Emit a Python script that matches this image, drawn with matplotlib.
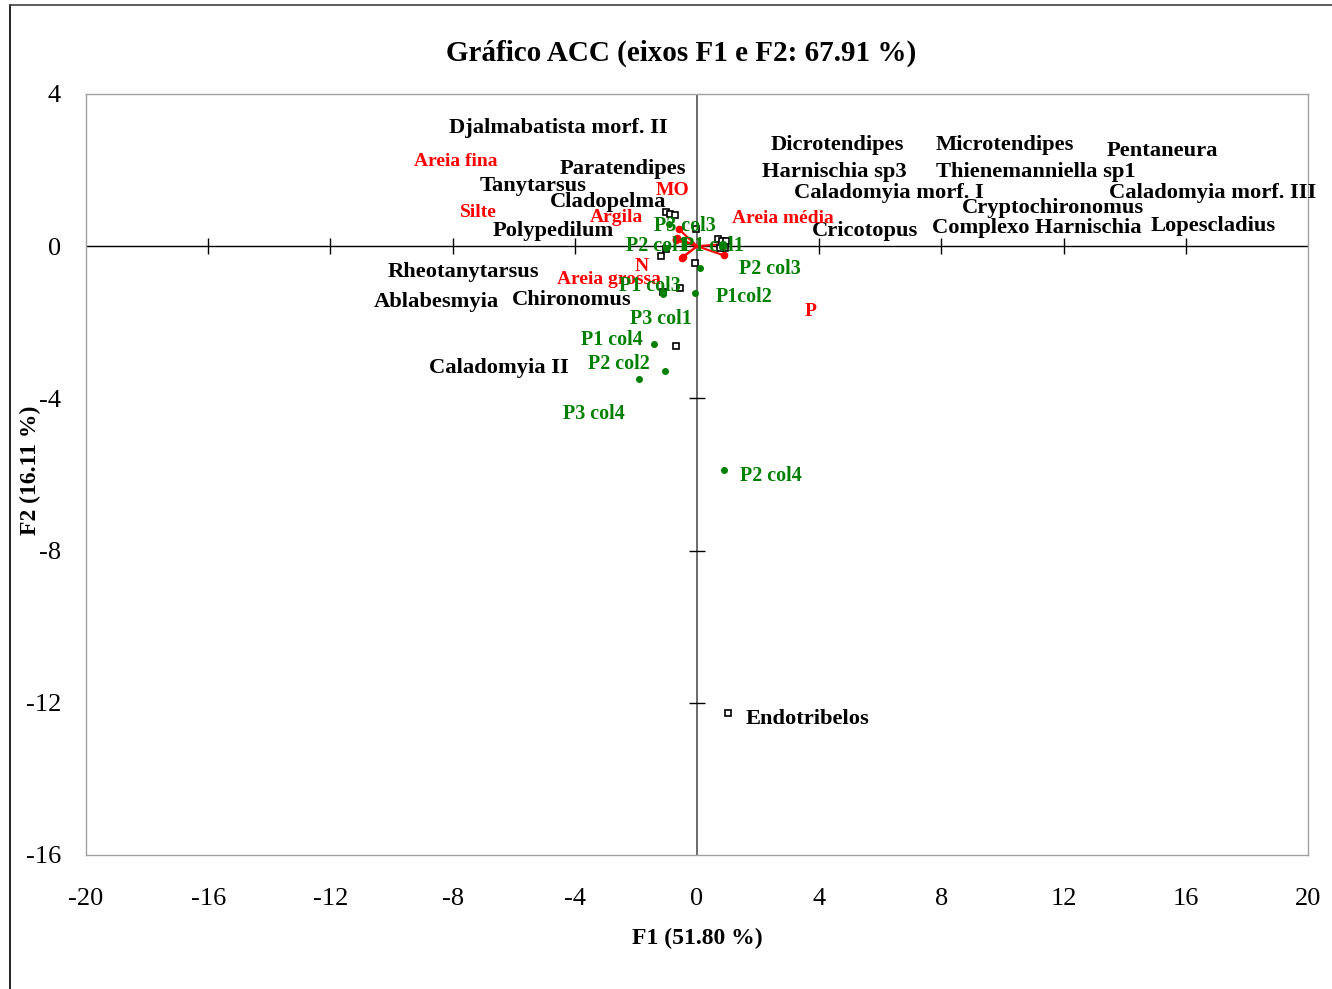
import numpy as np
import matplotlib
matplotlib.use("Agg")
import matplotlib.pyplot as plt
from matplotlib.lines import Line2D

plt.rcParams["font.family"] = ["Liberation Serif", "DejaVu Serif"]

# species scores (open squares)
species_x = [-1.01, -0.87, -0.71, -0.03, 0.69, 0.82, 0.96, 0.90, 0.74,
             -1.01, -1.17, -0.08, -1.13, -0.57, -0.69, 1.00]
species_y = [0.90, 0.85, 0.81, 0.44, 0.20, 0.14, 0.14, -0.06, -0.06,
             -0.08, -0.25, -0.43, -1.20, -1.11, -2.63, -12.27]

# species labels (as placed on the chart)
species_names = ["Djalmabatista morf. II", "Paratendipes", "Tanytarsus", "Cladopelma",
                 "Polypedilum", "Rheotanytarsus", "Ablabesmyia", "Chironomus",
                 "Caladomyia II", "Dicrotendipes", "Microtendipes", "Pentaneura",
                 "Harnischia sp3", "Thienemanniella sp1", "Caladomyia morf. I",
                 "Caladomyia morf. III", "Cryptochironomus", "Cricotopus",
                 "Complexo Harnischia", "Lopescladius", "Endotribelos"]
species_lx = [-8.13, -4.50, -7.12, -4.83, -6.69, -10.13, -10.59, -6.07, -8.76,
              2.41, 7.81, 13.41, 2.14, 7.81, 3.19, 13.50, 8.66, 3.75, 7.68, 14.84, 1.59]
species_ly = [3.10, 2.02, 1.58, 1.16, 0.39, -0.68, -1.47, -1.42, -3.21,
              2.65, 2.65, 2.50, 1.94, 1.94, 1.39, 1.39, 1.00, 0.39, 0.47, 0.53, -12.43]

# sites (green dots)
site_names = ["P3 col3", "P2 col1", "P1 col1", "P2 col3", "P1 col3", "P1col2",
              "P3 col1", "P1 col4", "P2 col2", "P3 col4", "P2 col4"]
site_x = [-0.93, -1.03, 0.85, 0.11, -1.13, -0.08, -1.10, -1.42, -1.06, -1.91, 0.87]
site_y = [0.58, -0.05, 0.02, -0.58, -1.26, -1.23, -1.20, -2.58, -3.29, -3.50, -5.89]
site_lx = [-1.42, -2.31, -0.50, 1.39, -2.57, 0.61, -2.18, -3.81, -3.58, -4.40, 1.42]
site_ly = [0.53, 0.00, 0.00, -0.60, -1.05, -1.34, -1.92, -2.47, -3.10, -4.42, -6.04]

# environmental variables (red vectors)
env_names = ["Areia fina", "MO", "Silte", "Argila", "Areia média", "N", "Areia grossa", "P"]
env_x = [-0.70, -0.60, -0.68, -0.66, 0.80, -0.50, -0.45, 0.87]
env_y = [0.20, 0.45, 0.15, 0.22, 0.05, -0.31, -0.28, -0.24]
env_lx = [-9.25, -1.36, -7.77, -3.52, 1.16, -2.05, -4.60, 3.52]
env_ly = [2.23, 1.45, 0.89, 0.76, 0.74, -0.53, -0.87, -1.71]

xticks = [-20, -16, -12, -8, -4, 0, 4, 8, 12, 16, 20]
yticks = [-16, -12, -8, -4, 0, 4]

fig = plt.figure(figsize=(13.32, 9.89), dpi=100)
ax = fig.add_axes([0.0646, 0.1355, 0.9174, 0.7695])
ax.set_xlim(-20, 20)
ax.set_ylim(-16, 4)

for s in ax.spines.values():
    s.set_color("#a0a0a0")
    s.set_linewidth(1.0)

ax.set_xticks(xticks)
ax.set_yticks(yticks)
ax.set_xticklabels([str(t) for t in xticks])
ax.set_yticklabels([str(t) for t in yticks])
ax.tick_params(axis="both", length=0, labelsize=19)
ax.tick_params(axis="x", pad=24)
ax.tick_params(axis="y", pad=18)

# central axes with crossing ticks
ax.axhline(0, color="black", lw=1.0, zorder=1)
ax.axvline(0, color="#606060", lw=1.3, zorder=1)
inner_x = [t for t in xticks if t not in (-20, 0, 20)]
inner_y = [t for t in yticks if t not in (-16, 0, 4)]
ax.plot(inner_x, np.zeros(len(inner_x)), ls="none", marker="|", ms=12, mew=1.0, color="black", zorder=1)
ax.plot(np.zeros(len(inner_y)), inner_y, ls="none", marker="_", ms=12, mew=1.0, color="black", zorder=1)

# env vectors
for x, y in zip(env_x, env_y):
    ax.plot([0, x], [0, y], color="red", lw=1.5, zorder=3)
ax.plot(env_x, env_y, ls="none", marker="o", ms=4.5, color="red", zorder=4)

# species and sites
ax.plot(species_x, species_y, ls="none", marker="s", ms=4.5, mfc="white", mec="black", mew=1.2, zorder=5)
ax.plot(site_x, site_y, ls="none", marker="o", ms=4, color="green", zorder=5)

for name, x, y in zip(species_names, species_lx, species_ly):
    ax.text(x, y, name, fontsize=16.2, fontweight="bold", color="black", ha="left", va="center", zorder=6)
for name, x, y in zip(env_names, env_lx, env_ly):
    ax.text(x, y, name, fontsize=14, fontweight="bold", color="red", ha="left", va="center", zorder=6)
for name, x, y in zip(site_names, site_lx, site_ly):
    ax.text(x, y, name, fontsize=14.4, fontweight="bold", color="green", ha="left", va="center", zorder=6)

fig.text(0.511, 0.946, "Gráfico ACC (eixos F1 e F2: 67.91 %)", fontsize=21, fontweight="bold",
         ha="center", va="center")
fig.text(0.5236, 0.0516, "F1 (51.80 %)", fontsize=17, fontweight="bold", ha="center", va="center")
fig.text(0.0225, 0.524, "F2 (16.11 %)", fontsize=17, fontweight="bold", ha="center", va="center",
         rotation=90)

# outer chart frame
fx = 10.5 / 1332
fy = 1 - 5 / 989
fig.add_artist(Line2D([fx, fx], [0, fy], color="black", lw=1.2))
fig.add_artist(Line2D([fx, 1], [fy, fy], color="#404040", lw=1.2))

fig.savefig("out.png", dpi=100, facecolor="white")
